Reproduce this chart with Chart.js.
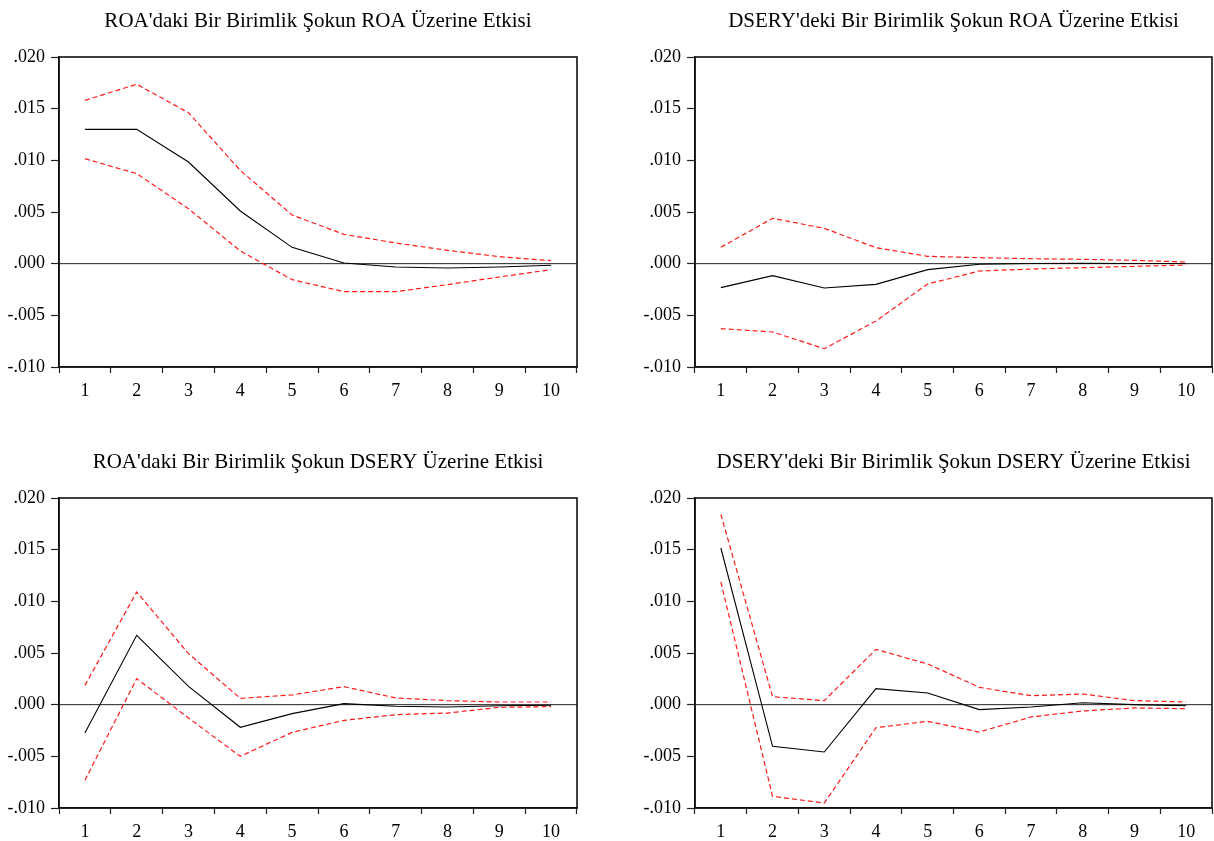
<!DOCTYPE html>
<html>
<head>
<meta charset="utf-8">
<script src="https://cdn.jsdelivr.net/npm/chart.js@4/dist/chart.umd.min.js"></script>
<style>
  html, body { margin: 0; padding: 0; background: #fff; overflow: hidden; }
  .panel { position: absolute; }
</style>
</head>
<body>
<div class="panel" style="left:0;top:0;width:600px;height:400px"><canvas id="c1"></canvas></div>
<div class="panel" style="left:636px;top:0;width:578px;height:400px"><canvas id="c2"></canvas></div>
<div class="panel" style="left:0;top:441px;width:600px;height:400px"><canvas id="c3"></canvas></div>
<div class="panel" style="left:636px;top:441px;width:578px;height:400px"><canvas id="c4"></canvas></div>
<script>
var periods = ['1', '2', '3', '4', '5', '6', '7', '8', '9', '10'];

// ROA -> ROA
var roaRoa      = [0.0130, 0.0130, 0.00984, 0.0051, 0.00158, 0.00006, -0.00032, -0.00042, -0.00032, -0.00016];
var roaRoaUp    = [0.0158, 0.01736, 0.01461, 0.00903, 0.00471, 0.00284, 0.0020, 0.00129, 0.00068, 0.00029];
var roaRoaLo    = [0.01016, 0.00871, 0.00532, 0.00123, -0.00155, -0.00271, -0.00271, -0.00203, -0.00129, -0.00058];

// DSERY -> ROA
var dseryRoa    = [-0.00232, -0.00116, -0.00235, -0.0020, -0.00058, -0.00005, 0.00002, 0.00003, 0.00002, 0.00001];
var dseryRoaUp  = [0.00158, 0.00439, 0.00342, 0.00155, 0.00071, 0.00058, 0.00048, 0.00042, 0.00032, 0.00016];
var dseryRoaLo  = [-0.00629, -0.00661, -0.00823, -0.00555, -0.00197, -0.00071, -0.00052, -0.00039, -0.00026, -0.00013];

// ROA -> DSERY
var roaDsery    = [-0.00274, 0.00671, 0.00177, -0.00219, -0.00087, 0.0001, -0.00016, -0.00023, -0.0001, -0.00006];
var roaDseryUp  = [0.00187, 0.0109, 0.00494, 0.00061, 0.00094, 0.00174, 0.00065, 0.00039, 0.00026, 0.00026];
var roaDseryLo  = [-0.00732, 0.00252, -0.00129, -0.0050, -0.00268, -0.00152, -0.00097, -0.00081, -0.00026, -0.00019];

// DSERY -> DSERY
var dsDs        = [0.01516, -0.00403, -0.00458, 0.00155, 0.00113, -0.00048, -0.00023, 0.00019, 0.0, -0.0001];
var dsDsUp      = [0.01842, 0.00077, 0.00039, 0.00535, 0.00394, 0.00168, 0.00087, 0.00103, 0.00039, 0.00026];
var dsDsLo      = [0.01187, -0.00887, -0.00952, -0.00223, -0.00161, -0.00265, -0.00119, -0.00061, -0.00032, -0.00039];

var titles = [
  "ROA'daki Bir Birimlik Şokun ROA Üzerine Etkisi",
  "DSERY'deki Bir Birimlik Şokun ROA Üzerine Etkisi",
  "ROA'daki Bir Birimlik Şokun DSERY Üzerine Etkisi",
  "DSERY'deki Bir Birimlik Şokun DSERY Üzerine Etkisi"
];

var serif = "'Liberation Serif', 'Times New Roman', serif";

// frame around the plot and the zero line
var framePlugin = {
  id: 'frame',
  beforeDatasetsDraw: function(chart) {
    var a = chart.chartArea, y = chart.scales.y.getPixelForValue(0);
    var ctx = chart.ctx;
    ctx.save();
    ctx.strokeStyle = '#222';
    ctx.lineWidth = 1;
    ctx.beginPath();
    ctx.moveTo(a.left, y);
    ctx.lineTo(a.right, y);
    ctx.stroke();
    ctx.restore();
  },
  afterDraw: function(chart) {
    var a = chart.chartArea, ctx = chart.ctx;
    ctx.save();
    ctx.strokeStyle = '#111';
    ctx.lineWidth = 1.6;
    ctx.strokeRect(a.left, a.top, a.right - a.left, a.bottom - a.top);
    ctx.restore();
  }
};

function makeChart(id, title, mid, up, lo, rightPad) {
  var band = function(vals) {
    return {
      data: vals, borderColor: '#ff1a1a', borderWidth: 1.2, borderDash: [5, 3],
      pointRadius: 0, fill: false, tension: 0
    };
  };
  return new Chart(document.getElementById(id), {
    type: 'line',
    data: {
      labels: periods,
      datasets: [
        { data: mid, borderColor: '#000', borderWidth: 1.1, pointRadius: 0, fill: false, tension: 0 },
        band(up),
        band(lo)
      ]
    },
    options: {
      responsive: true,
      maintainAspectRatio: false,
      animation: false,
      layout: { padding: { left: 0, right: rightPad, top: 0, bottom: 3 } },
      plugins: {
        legend: { display: false },
        tooltip: { enabled: false },
        title: {
          display: true, text: title, fullSize: false, color: '#000',
          font: { family: serif, size: 21, weight: 'normal', lineHeight: 1.2 },
          padding: { top: 9, bottom: 22.8 }
        }
      },
      scales: {
        x: {
          offset: true,
          grid: { offset: true, drawOnChartArea: false, tickLength: 6, color: '#222', tickWidth: 1.2 },
          border: { display: true, color: '#111', width: 1.6 },
          ticks: { color: '#000', font: { family: serif, size: 18 }, padding: 7, maxRotation: 0 },
          afterFit: function(s) { s.height = 30; }
        },
        y: {
          min: -0.01, max: 0.02,
          grid: { drawOnChartArea: false, tickLength: 8, color: '#222', tickWidth: 1.2 },
          border: { display: true, color: '#111', width: 1.6 },
          ticks: {
            stepSize: 0.005, color: '#000', font: { family: serif, size: 18 }, padding: 6,
            callback: function(v) { return v.toFixed(3).replace('0.', '.'); }
          },
          afterFit: function(s) { s.width = 59; }
        }
      }
    },
    plugins: [framePlugin]
  });
}

makeChart('c1', titles[0], roaRoa, roaRoaUp, roaRoaLo, 23);
makeChart('c2', titles[1], dseryRoa, dseryRoaUp, dseryRoaLo, 2);
makeChart('c3', titles[2], roaDsery, roaDseryUp, roaDseryLo, 23);
makeChart('c4', titles[3], dsDs, dsDsUp, dsDsLo, 2);
</script>
</body>
</html>
